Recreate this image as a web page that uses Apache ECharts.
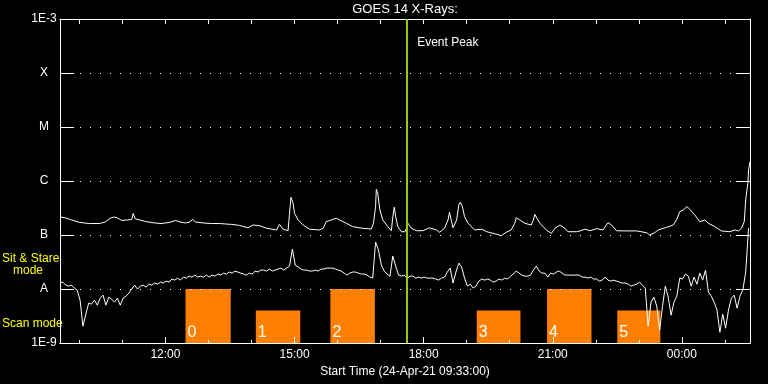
<!DOCTYPE html>
<html>
<head>
<meta charset="utf-8">
<script src="https://cdn.jsdelivr.net/npm/echarts@6/dist/echarts.min.js"></script>
<style>
html,body{margin:0;padding:0;background:#000;}
#c{width:768px;height:384px;}
</style>
</head>
<body>
<div id="c"></div>
<script>
// ---------------- data ----------------
const startTime = '09:33';          // start of plot, 24-Apr-21
const spanMinutes = 962;             // plotted time span (minutes)
const xLabelTimes = ['12:00', '15:00', '18:00', '21:00', '00:00'];
const yTickLabels = ['1E-9', 'A', 'B', 'C', 'M', 'X', '1E-3'];
const yMin = 1e-9, yMax = 1e-3;
const eventPeak = '17:37';

// GOES long channel (1-8 A): minutes after start, flux (W/m^2)
const longOffsetMin = [0,8,16,27,41,55,63,69,75,80,
  86,94,100,102,105,111,119,132,141,153,
  161,167,175,181,185,189,200,211,222,231,
  239,250,262,269,278,288,302,306,311,318,
  320,322,325,327,332,339,348,362,367,371,
  381,385,390,399,408,422,434,437,440,441,
  443,446,450,457,462,464,466,468,471,476,
  481,483,485,490,497,506,515,525,529,536,
  541,543,546,548,553,556,558,561,564,569,
  578,588,595,608,615,622,629,634,636,641,
  648,657,660,662,665,669,678,685,690,697,
  704,708,720,725,732,739,748,757,764,769,
  776,785,804,818,822,829,834,846,855,860,
  864,869,874,878,885,892,899,904,913,922,
  934,941,946,950,954,956,959,960,962];
const longFlux = [2.16e-7,2.07e-7,1.90e-7,1.71e-7,1.63e-7,1.63e-7,1.74e-7,2.02e-7,2.16e-7,2.07e-7,
  1.86e-7,1.90e-7,1.94e-7,2.50e-7,1.98e-7,1.90e-7,1.78e-7,1.67e-7,1.63e-7,1.71e-7,
  1.86e-7,1.74e-7,1.67e-7,1.74e-7,1.94e-7,1.74e-7,1.67e-7,1.63e-7,1.63e-7,1.60e-7,
  1.57e-7,1.51e-7,1.36e-7,1.53e-7,1.49e-7,1.33e-7,1.24e-7,1.58e-7,1.28e-7,1.20e-7,
  2.52e-7,5.0e-7,3.87e-7,2.52e-7,1.90e-7,1.53e-7,1.28e-7,1.24e-7,1.33e-7,1.76e-7,
  1.96e-7,2.04e-7,1.90e-7,1.65e-7,1.43e-7,1.33e-7,1.29e-7,1.65e-7,3.35e-7,7.0e-7,
  5.93e-7,2.91e-7,1.90e-7,1.43e-7,1.20e-7,2.18e-7,3.27e-7,2.18e-7,1.43e-7,1.15e-7,
  1.15e-7,1.33e-7,1.65e-7,1.33e-7,1.20e-7,1.20e-7,1.36e-7,1.24e-7,1.12e-7,1.33e-7,
  1.90e-7,2.63e-7,1.76e-7,1.36e-7,1.90e-7,3.60e-7,4.04e-7,3.35e-7,2.18e-7,1.65e-7,
  1.24e-7,1.28e-7,1.15e-7,1.04e-7,0.97e-7,1.12e-7,1.24e-7,1.65e-7,2.09e-7,1.90e-7,
  1.65e-7,1.53e-7,1.90e-7,2.41e-7,2.04e-7,1.65e-7,1.24e-7,1.07e-7,1.33e-7,1.53e-7,
  1.33e-7,1.15e-7,1.15e-7,1.19e-7,1.28e-7,1.20e-7,1.31e-7,1.24e-7,1.69e-7,1.53e-7,
  1.20e-7,1.19e-7,1.19e-7,1.10e-7,1.00e-7,1.10e-7,1.24e-7,1.39e-7,1.53e-7,1.96e-7,
  2.70e-7,2.91e-7,3.35e-7,3.0e-7,2.35e-7,1.76e-7,1.90e-7,1.65e-7,1.43e-7,1.19e-7,
  1.15e-7,1.24e-7,1.19e-7,1.33e-7,1.76e-7,4.45e-7,9.1e-7,1.60e-6,2.28e-6];

// GOES short channel (0.5-4 A): one sample every 4 minutes from start
const shortStepMin = 4;
const shortFlux = [
  1.29e-8,1.34e-8,1.18e-8,1.13e-8,1.18e-8,1.04e-8,9.52e-9,6.21e-9,2.05e-9,3.42e-9,5.47e-9,5.24e-9,6.21e-9,5.02e-9,6.77e-9,
  7.69e-9,5.02e-9,7.06e-9,6.48e-9,5.71e-9,6.77e-9,5.02e-9,6.77e-9,7.37e-9,8.38e-9,9.94e-9,1.18e-8,9.94e-9,1.13e-8,1.18e-8,
  1.08e-8,1.23e-8,1.18e-8,1.29e-8,1.23e-8,1.34e-8,1.29e-8,1.40e-8,1.34e-8,1.53e-8,1.46e-8,1.59e-8,1.46e-8,1.66e-8,1.59e-8,
  1.73e-8,1.66e-8,1.81e-8,1.66e-8,1.73e-8,1.66e-8,1.81e-8,1.66e-8,1.81e-8,1.73e-8,1.89e-8,1.81e-8,1.97e-8,1.89e-8,2.06e-8,
  1.97e-8,2.15e-8,2.06e-8,1.97e-8,1.89e-8,1.81e-8,1.97e-8,1.89e-8,2.15e-8,2.06e-8,2.24e-8,2.24e-8,2.15e-8,2.34e-8,2.15e-8,
  2.24e-8,2.34e-8,2.44e-8,2.24e-8,2.44e-8,2.66e-8,5.49e-8,2.77e-8,2.55e-8,2.34e-8,2.24e-8,2.24e-8,2.15e-8,2.15e-8,2.24e-8,
  2.15e-8,2.34e-8,2.34e-8,2.44e-8,2.44e-8,2.44e-8,2.34e-8,2.24e-8,2.15e-8,1.97e-8,1.81e-8,1.97e-8,2.06e-8,2.06e-8,1.97e-8,
  1.89e-8,1.89e-8,1.81e-8,1.66e-8,1.59e-8,7.39e-8,5.26e-8,2.77e-8,2.15e-8,1.89e-8,1.73e-8,4.07e-8,2.66e-8,1.81e-8,1.73e-8,
  1.81e-8,1.59e-8,1.73e-8,1.73e-8,1.59e-8,1.66e-8,1.59e-8,1.66e-8,1.59e-8,1.59e-8,1.59e-8,1.53e-8,1.46e-8,1.59e-8,1.66e-8,
  2.06e-8,2.44e-8,1.29e-8,2.06e-8,3.02e-8,2.55e-8,1.59e-8,1.13e-8,1.23e-8,1.04e-8,1.13e-8,1.40e-8,1.53e-8,1.46e-8,1.53e-8,
  1.46e-8,1.34e-8,1.40e-8,1.53e-8,1.46e-8,1.59e-8,1.53e-8,1.73e-8,1.89e-8,2.15e-8,1.97e-8,1.81e-8,1.73e-8,1.73e-8,1.81e-8,
  2.24e-8,2.66e-8,2.15e-8,1.97e-8,1.97e-8,1.66e-8,1.97e-8,1.89e-8,2.06e-8,2.15e-8,1.97e-8,1.81e-8,1.81e-8,1.81e-8,1.81e-8,
  1.81e-8,1.81e-8,1.66e-8,1.66e-8,1.59e-8,1.66e-8,1.53e-8,1.53e-8,1.40e-8,1.46e-8,1.66e-8,1.46e-8,1.40e-8,1.46e-8,1.40e-8,
  1.34e-8,1.29e-8,1.29e-8,1.23e-8,1.13e-8,1.18e-8,1.23e-8,1.34e-8,1.18e-8,1.04e-8,2.05e-9,5.71e-9,7.06e-9,4.81e-9,1.73e-9,
  4.81e-9,1.13e-8,7.06e-9,3.28e-9,5.71e-9,7.37e-9,1.59e-8,1.53e-8,1.89e-8,1.73e-8,1.13e-8,1.66e-8,1.23e-8,1.97e-8,1.46e-8,
  2.24e-8,8.74e-9,7.37e-9,5.71e-9,4.06e-9,1.58e-9,3.42e-9,1.88e-9,4.06e-9,6.77e-9,7.69e-9,4.42e-9,7.37e-9,9.52e-9,2.06e-8,
  1.35e-7];

// Scan-mode intervals
const scanLabels = ['0', '1', '2', '3', '4', '5'];
const scanStart  = ['12:28', '14:06', '15:50', '19:14', '20:52', '22:30'];
const scanEnd    = ['13:31', '15:08', '16:52', '20:15', '21:54', '23:30'];
const scanTop    = [1e-8, 4e-9, 1e-8, 4e-9, 1e-8, 4e-9];

// ---------------- helpers ----------------
function hm(s) { const p = s.split(':'); return (+p[0]) * 60 + (+p[1]); }
const START = hm(startTime);
const END = START + spanMinutes;
function toMin(s) { let m = hm(s); if (m < START) m += 1440; return m; }
function fmtTime(v) {
  const h = Math.floor(v / 60) % 24, m = Math.round(v % 60);
  return String(h).padStart(2, '0') + ':' + String(m).padStart(2, '0');
}
const hourTicks = [];
for (let m = Math.ceil(START / 60) * 60; m <= END; m += 60) hourTicks.push(m);
const labelVals = xLabelTimes.map(toMin);

const longData = longOffsetMin.map((t, i) => [START + t, longFlux[i]]);
const shortData = shortFlux.map((v, i) => [START + i * shortStepMin, v]);
const scanData = scanStart.map((s, i) => [toMin(s), toMin(scanEnd[i]), scanTop[i]]);
const eventMin = toMin(eventPeak);

const FONT = 'Liberation Sans, Arial, sans-serif';
const WHITE = '#ffffff';

const chart = echarts.init(document.getElementById('c'), null, { renderer: 'canvas' });

const xBase = {
  type: 'value', min: START, max: END,
  axisLine: { show: true, onZero: false, lineStyle: { color: WHITE, width: 1 } },
  splitLine: { show: false }
};
const yBase = {
  type: 'log', logBase: 10, min: yMin, max: yMax, splitNumber: 6,
  axisLine: { show: true, onZero: false, lineStyle: { color: WHITE, width: 1 } },
  axisTick: { show: true, inside: true, length: 14, lineStyle: { color: WHITE, width: 1 } }
};

chart.setOption({
  backgroundColor: '#000000',
  animation: false,
  grid: { left: 60, top: 19, width: 690, height: 324, show: false },
  xAxis: [
    Object.assign({}, xBase, {
      position: 'bottom',
      axisTick: { show: true, inside: true, length: 3, customValues: hourTicks, lineStyle: { color: WHITE } },
      axisLabel: { show: false }
    }),
    Object.assign({}, xBase, {
      position: 'bottom',
      axisTick: { show: true, inside: true, length: 6, customValues: labelVals, lineStyle: { color: WHITE } },
      axisLabel: { show: true, customValues: labelVals, formatter: fmtTime, color: WHITE,
                   fontFamily: FONT, fontSize: 12, margin: 6 },
      name: 'Start Time (24-Apr-21 09:33:00)', nameLocation: 'middle', nameGap: 17,
      nameTextStyle: { color: WHITE, fontFamily: FONT, fontSize: 12, verticalAlign: 'top' }
    }),
    Object.assign({}, xBase, {
      position: 'top',
      axisTick: { show: true, inside: true, length: 5, customValues: hourTicks, lineStyle: { color: WHITE } },
      axisLabel: { show: false }
    })
  ],
  yAxis: [
    Object.assign({}, yBase, {
      position: 'left',
      axisLabel: {
        show: true, color: WHITE, fontFamily: FONT, fontSize: 12, align: 'center', margin: 16,
        formatter: v => yTickLabels[Math.round(Math.log10(v) - Math.log10(yMin))]
      },
      splitLine: { show: true, lineStyle: { color: WHITE, width: 1, type: [1, 9] } }
    }),
    Object.assign({}, yBase, {
      position: 'right',
      axisLabel: { show: false },
      splitLine: { show: false }
    })
  ],
  series: [
    {
      type: 'custom', name: 'scan', xAxisIndex: 0, yAxisIndex: 0, z: -1,
      data: scanData,
      encode: { x: [0, 1], y: 2 },
      clip: true,
      renderItem: function (params, api) {
        const p0 = api.coord([api.value(0), api.value(2)]);
        const p1 = api.coord([api.value(1), yMin]);
        return {
          type: 'group',
          children: [
            { type: 'rect', shape: { x: p0[0], y: p0[1], width: p1[0] - p0[0], height: p1[1] - p0[1] },
              style: { fill: '#ff8000' } },
            { type: 'text', x: p0[0] + 2, y: p1[1] - 2,
              style: { text: scanLabels[params.dataIndex], fill: WHITE, font: '16px ' + FONT,
                       textVerticalAlign: 'bottom', textAlign: 'left' } }
          ]
        };
      }
    },
    {
      type: 'line', name: 'short', xAxisIndex: 0, yAxisIndex: 0, data: shortData,
      showSymbol: false, symbol: 'none', z: 3,
      lineStyle: { color: WHITE, width: 1 }
    },
    {
      type: 'line', name: 'long', xAxisIndex: 0, yAxisIndex: 0, data: longData,
      showSymbol: false, symbol: 'none', z: 3,
      lineStyle: { color: WHITE, width: 1 },
      markLine: {
        silent: true, symbol: ['none', 'none'], animation: false,
        label: { show: false },
        lineStyle: { color: '#99cc00', width: 2, type: 'solid' },
        data: [{ xAxis: eventMin }]
      }
    }
  ]
});

const peakPx = chart.convertToPixel({ xAxisIndex: 0, yAxisIndex: 0 }, [eventMin, yMax]);
chart.setOption({
  graphic: [
    { type: 'text', x: 405, y: 9, style: { text: 'GOES 14 X-Rays:', fill: WHITE, font: '13px ' + FONT,
      textAlign: 'center', textVerticalAlign: 'middle' } },
    { type: 'text', x: peakPx[0] + 10, y: peakPx[1] + 24, style: { text: 'Event Peak', fill: WHITE,
      font: '12px ' + FONT, textAlign: 'left', textVerticalAlign: 'middle' } },
    { type: 'text', x: 2, y: 259, style: { text: 'Sit & Stare', fill: '#ffff00', font: '12px ' + FONT,
      textAlign: 'left', textVerticalAlign: 'middle' } },
    { type: 'text', x: 13, y: 271, style: { text: 'mode', fill: '#ffff00', font: '12px ' + FONT,
      textAlign: 'left', textVerticalAlign: 'middle' } },
    { type: 'text', x: 2, y: 324, style: { text: 'Scan mode', fill: '#ffff00', font: '12px ' + FONT,
      textAlign: 'left', textVerticalAlign: 'middle' } }
  ]
});
</script>
</body>
</html>
